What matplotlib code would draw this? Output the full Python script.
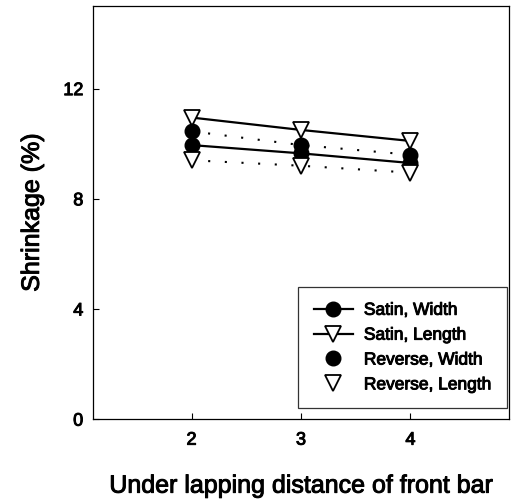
import matplotlib
matplotlib.use("Agg")
import matplotlib.pyplot as plt
import matplotlib.patheffects as pe

plt.rcParams['font.family'] = ['Liberation Sans', 'DejaVu Sans']

# === Data ===
distance = [2, 3, 4]
satin_width = [9.95, 9.65, 9.3]
satin_length = [10.95, 10.5, 10.1]
reverse_width = [10.45, 9.95, 9.6]
reverse_length = [9.4, 9.2, 8.95]

x_ticks = [2, 3, 4]
y_ticks = [0, 4, 8, 12]

DOTTED = (0, (1, 7))
# scanned figure: text looks a bit heavier than plain regular weight
THICK = [pe.withStroke(linewidth=0.7, foreground='black')]


def draw_chart():
    fig = plt.figure(figsize=(5.11, 4.99), dpi=100)
    ax = fig.add_axes([0.182, 0.160, 0.814, 0.828])

    # dotted lines for the reverse series (no legend entry)
    ax.plot(distance, reverse_width, color='black', lw=1.5, ls=DOTTED, zorder=2)
    ax.plot(distance, reverse_length, color='black', lw=1.5, ls=DOTTED, zorder=2)

    ax.plot(distance, satin_width, color='black', lw=1.6, marker='o', ms=10.5,
            mfc='black', mec='black', label='Satin, Width', zorder=3)
    ax.plot(distance, satin_length, color='black', lw=1.6, marker='v', ms=12,
            mfc='white', mec='black', mew=1.3, label='Satin, Length', zorder=3)
    ax.plot(distance, reverse_width, ls='none', marker='o', ms=10.5,
            mfc='black', mec='black', label='Reverse, Width', zorder=5)
    ax.plot(distance, reverse_length, ls='none', marker='v', ms=12,
            mfc='white', mec='black', mew=1.3, label='Reverse, Length', zorder=4)

    ax.set_xlim(1.1, 4.9)
    ax.set_ylim(0, 15)
    ax.set_xticks(x_ticks)
    ax.set_yticks(y_ticks)
    ax.tick_params(direction='in', length=4, width=0.8, labelsize=13)
    ax.tick_params(axis='x', pad=9)
    ax.tick_params(axis='y', pad=7)
    for spine in ax.spines.values():
        spine.set_linewidth(0.9)

    ax.set_xlabel('Under lapping distance of front bar', fontsize=18, labelpad=18)
    ax.set_ylabel('Shrinkage (%)', fontsize=18, labelpad=14)

    leg = ax.legend(loc='lower right', bbox_to_anchor=(0.995, 0.027), borderaxespad=0,
                    fontsize=12.5, frameon=True, fancybox=False, edgecolor='black',
                    handlelength=2.3, handletextpad=0.6, labelspacing=0.56,
                    borderpad=0.9)
    leg.get_frame().set_linewidth(0.9)

    texts = ax.get_xticklabels() + ax.get_yticklabels() + leg.get_texts()
    texts += [ax.xaxis.label, ax.yaxis.label]
    for t in texts:
        t.set_path_effects(THICK)

    fig.savefig('out.png', dpi=100)


if __name__ == '__main__':
    draw_chart()
